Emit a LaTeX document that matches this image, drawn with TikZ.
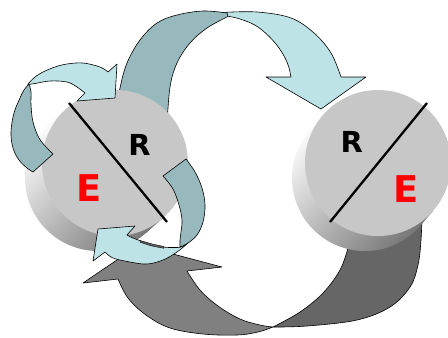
\documentclass[tikz,border=0pt]{standalone}
\usepackage{fontspec}
\setmainfont{DejaVu Sans}
\definecolor{lightarrow}{RGB}{189,227,230}
\definecolor{darkarrow}{RGB}{151,185,189}
\definecolor{greymid}{RGB}{128,128,128}
\definecolor{greydark}{RGB}{102,102,102}
\definecolor{diskface}{RGB}{199,199,199}
\definecolor{sidelight}{RGB}{255,255,255}
\definecolor{sidedark}{RGB}{120,120,120}
\definecolor{letterred}{RGB}{255,0,0}
\begin{document}
\begin{tikzpicture}[x=1bp,y=-1bp,
  arrowpart/.style={draw=black, line width=0.6bp, line join=round},
  lightpart/.style={arrowpart, fill=lightarrow},
  darkpart/.style={arrowpart, fill=darkarrow},
  midgrey/.style={arrowpart, fill=greymid},
  darkgrey/.style={arrowpart, fill=greydark},
  sideshade/.style={top color=sidelight, bottom color=sidedark, shading angle=45},
  face/.style={fill=diskface},
  divider/.style={line width=2.3bp, draw=black},
  letterR/.style={font=\fontsize{29}{29}\bfseries\selectfont, text=black, inner sep=0pt},
  letterE/.style={font=\fontsize{37}{37}\bfseries\selectfont, text=letterred, inner sep=0pt},
  tens/.style={smooth, tension=0.6}
]
\useasboundingbox (0,0) rectangle (448,337);

% ---------- big bottom arrow (grey, right disk -> left disk) ----------
\filldraw[darkgrey] plot[tens] coordinates {(273,327) (307,326) (357,320) (390,307) (410,287) (418,265) (421,240) (422,215)}
  -- (350,215) -- plot[tens] coordinates {(348,248) (340,270) (323,293) (300,312) (273,327)} -- cycle;
\filldraw[midgrey] plot[tens] coordinates {(273,327) (258,332) (237,335) (203,334) (170,328) (146,315) (128,298) (118,279)}
  -- (83,283) -- (139,245) -- (222,267)
  -- plot[tens] coordinates {(187,271) (200,290) (218,306) (240,319) (260,325) (273,327)} -- cycle;

% ---------- big top arrow (left disk -> right disk) ----------
\filldraw[lightpart] plot[tens] coordinates {(222,12.5) (257,12) (291,18) (314,33) (331,53) (341,77)}
  -- (366,77) -- (321,109) -- (266,77)
  -- plot[tens] coordinates {(291,77) (287,62) (276,44) (258,27) (240,19) (224,15.5)} -- cycle;
\filldraw[darkpart] plot[tens] coordinates {(116,112) (120,88) (127,63) (140,40) (157,23) (177,15) (203,11) (227,13)}
  -- plot[tens] coordinates {(228,16.5) (207,28) (190,43) (177,63) (170,87) (167,125)} -- cycle;

% ---------- left disk ----------
\begin{scope}
  \clip (98,178) circle[radius=73bp];
  \shade[sideshade] (20,100) rectangle (170,255);
\end{scope}
\begin{scope}
  \clip (163.3,217.7) -- (66.7,108.3) -- (49.7,123.3) -- (146.3,232.7) -- cycle;
  \shade[sideshade] (20,100) rectangle (170,255);
\end{scope}
\fill[face] (115,163) circle[radius=73bp];

% ---------- right disk ----------
\begin{scope}
  \clip (365,178) circle[radius=73bp];
  \shade[sideshade] (287,100) rectangle (437,255);
\end{scope}
\begin{scope}
  \clip (433.2,210.8) -- (322.8,115.2) -- (309.8,130.2) -- (420.2,225.8) -- cycle;
  \shade[sideshade] (287,100) rectangle (437,255);
\end{scope}
\fill[face] (378,163) circle[radius=73bp];

% ---------- dividers and letters ----------
\coordinate (la) at (69,103);
\coordinate (lb) at (167,222);
\coordinate (ra) at (427,103);
\coordinate (rb) at (330,222);
\draw[divider] (la) -- (lb);
\draw[divider] (ra) -- (rb);
\node[letterR] (rleft) at (139.5,144.5) {R};
\node[letterE] (eleft) at (89.3,188) {E};
\node[letterR] (rright) at (351.7,141.5) {R};
\node[letterE] (eright) at (405.8,189) {E};

% ---------- small top-left arrow ----------
\filldraw[lightpart] plot[tens] coordinates {(28,84) (35,77) (43,72) (55,67) (67,64) (83,63) (100,67) (108,72)}
  -- (117,64) -- (115,98) -- (77,101)
  -- plot[tens] coordinates {(85,93) (77,87) (67,82) (50,81) (35,83.5) (28,84.5)} -- cycle;
\filldraw[darkpart] (33,172)
  -- plot[tens] coordinates {(53,154) (47,148) (39,138) (33,122) (31,105) (31,92) (29,84)}
  -- plot[tens] coordinates {(29,84) (24,90) (20,98) (14,113) (11,132) (13,148) (19,160) (27,168) (33,172)} -- cycle;

% ---------- small lower-right arrow ----------
\filldraw[lightpart] plot[tens] coordinates {(188,243) (177,252) (163,260) (147,264) (130,262) (113,258) (105,252)}
  -- (93,261) -- (98,229) -- (135,226)
  -- plot[tens] coordinates {(127,235) (133,238) (147,243) (163,247) (177,247.5) (181,247)} -- cycle;
\filldraw[darkgrey, line width=0.4bp] (140,240.5) -- (152,244) -- (164,246.5) -- (164,248.3) -- (151,245.8) -- (140,242.2) -- cycle;
\filldraw[darkpart] (163,176) -- (186,159)
  -- plot[tens] coordinates {(186,159) (195,172) (202,188) (205,205) (203,222) (197,235) (188,243) (180,247)}
  -- plot[tens] coordinates {(180,247) (180,240) (181,232) (182,220) (179,205) (173,189) (163,176)} -- cycle;
\end{tikzpicture}
\end{document}
